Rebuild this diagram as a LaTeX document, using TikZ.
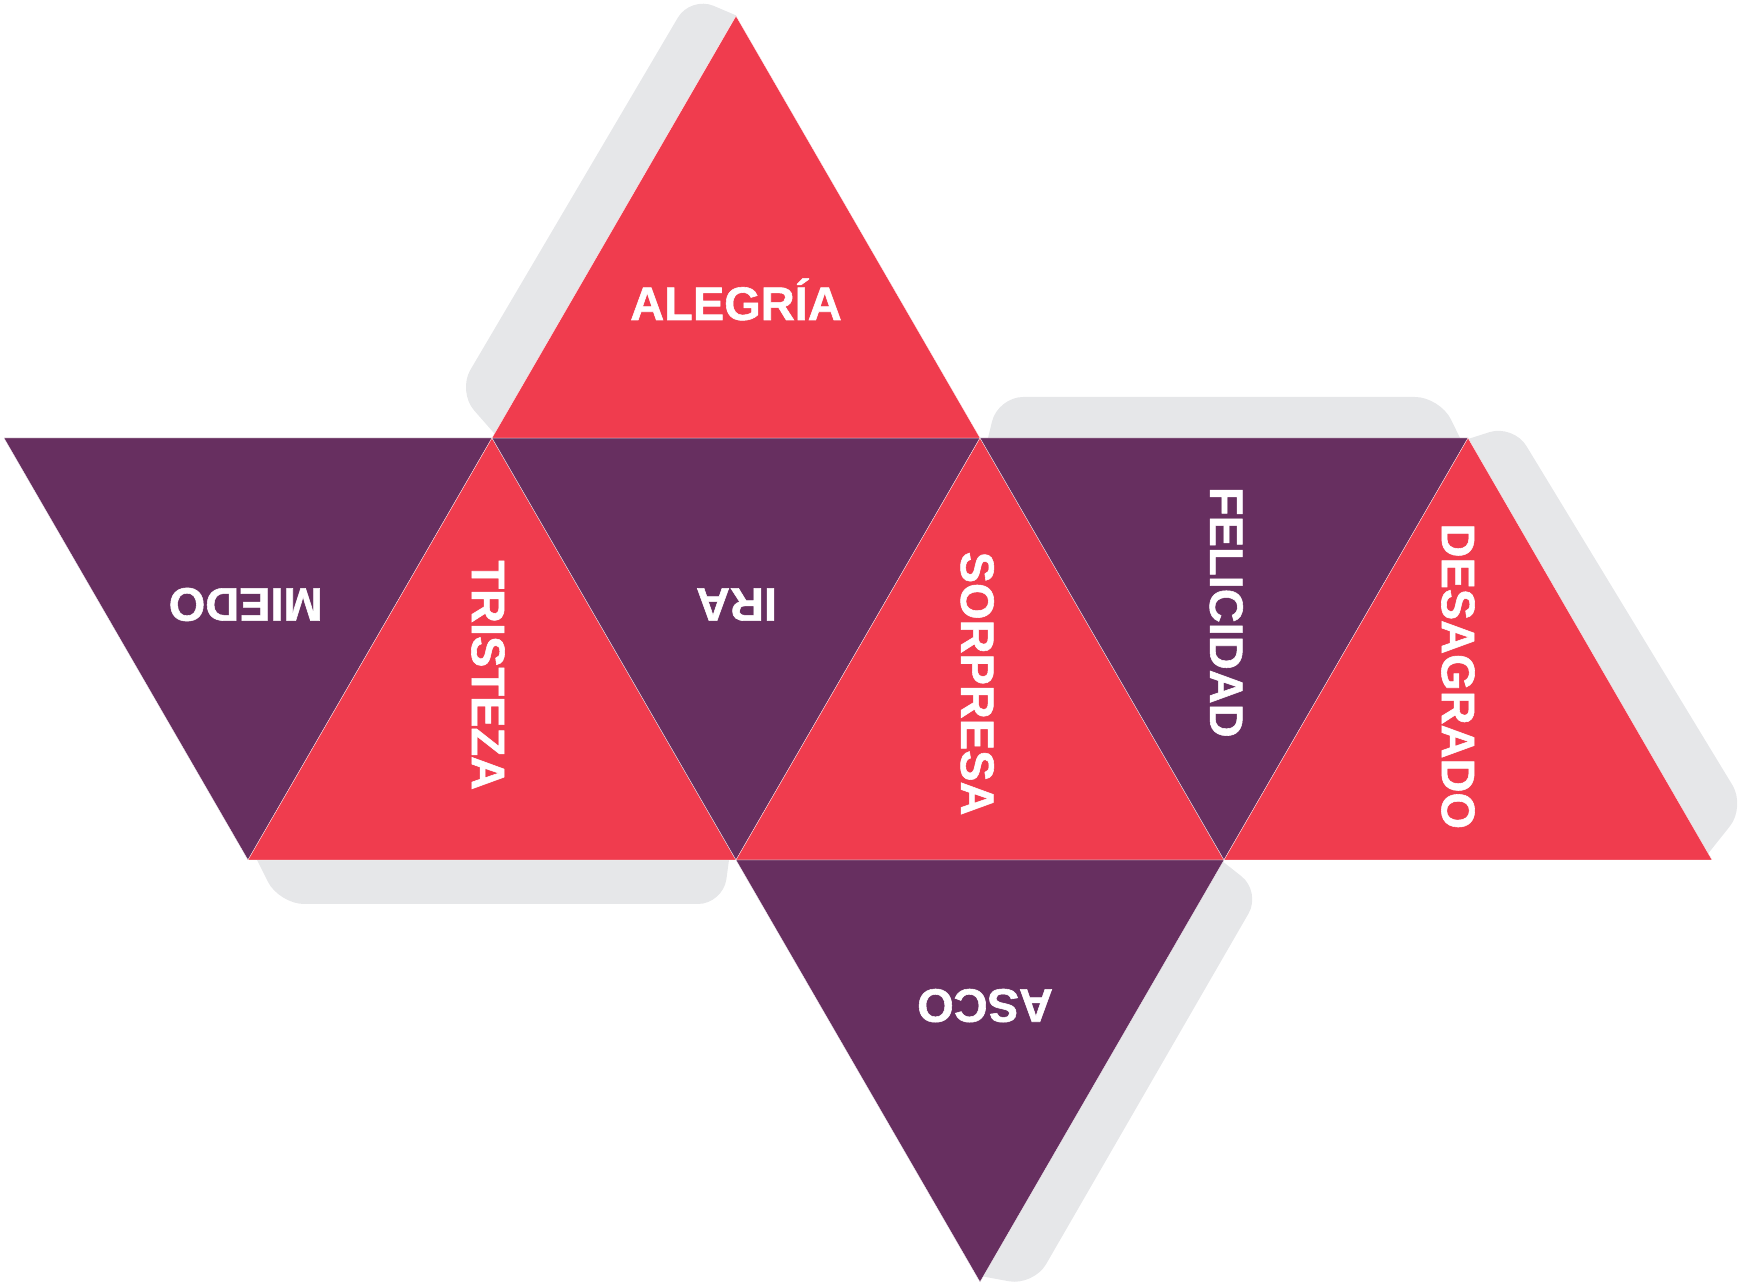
\documentclass[tikz,border=0pt]{standalone}
\usepackage{fontspec}
\setmainfont{Liberation Sans}
\newfontfamily\labelfont{Liberation Sans}[BoldFeatures={FakeBold=1.2}]
\definecolor{cred}{RGB}{240,60,78}
\definecolor{cpur}{RGB}{103,47,96}
\definecolor{cgray}{RGB}{230,231,233}
\tikzset{
  redface/.style={fill=cred, draw=white, line width=0.25pt, line join=round},
  purface/.style={fill=cpur, draw=white, line width=0.25pt, line join=round},
  facelabel/.style={text=white, font=\labelfont\fontsize{47}{50}\selectfont\bfseries, inner sep=0pt},
}
% #1 origin, #2 angle, #3 base start t, #4 #5 first outer corner (t,s), #6 #7 second outer corner, #8 base end t
\newcommand{\gluetab}[8]{%
  \begin{scope}[shift={(#1)}, rotate=#2]
    \clip (-100,0) rectangle (600,200);
    \fill[cgray, rounded corners=25pt] ({#3-(#4-#3)*1.2},{-#5*1.2}) -- (#4,#5) -- (#6,#7) -- ({#8-(#6-#8)*1.2},{-#7*1.2}) -- cycle;
  \end{scope}}
\begin{document}
\begin{tikzpicture}[x=1pt, y=1pt]
  \useasboundingbox (0,0) rectangle (1747,1287);
  % vertices
  \coordinate (T0) at (4,849);
  \coordinate (T1) at (492,849);
  \coordinate (T2) at (980,849);
  \coordinate (T3) at (1468,849);
  \coordinate (B0) at (248,427);
  \coordinate (B1) at (736,427);
  \coordinate (B2) at (1224,427);
  \coordinate (B3) at (1712,427);
  \coordinate (AT) at (736,1271);
  \coordinate (AB) at (980,5);
  % glue tabs
  \gluetab{T1}{60}{5}{23}{53}{482}{49}{488}
  \gluetab{T2}{0}{8}{18}{41}{460}{41}{480}
  \gluetab{T3}{-60}{1}{11}{46}{458}{56}{480}
  \gluetab{B1}{180}{7}{13}{44}{457}{44}{479}
  \gluetab{B2}{240}{2}{9}{48}{464}{48}{481}
  % faces
  \path[purface] (T0) -- (T1) -- (B0) -- cycle;
  \path[redface] (B0) -- (B1) -- (T1) -- cycle;
  \path[purface] (T1) -- (T2) -- (B1) -- cycle;
  \path[redface] (B1) -- (B2) -- (T2) -- cycle;
  \path[purface] (T2) -- (T3) -- (B2) -- cycle;
  \path[redface] (B2) -- (B3) -- (T3) -- cycle;
  \path[redface] (T1) -- (T2) -- (AT) -- cycle;
  \path[purface] (B1) -- (B2) -- (AB) -- cycle;
  % labels
  \node[facelabel, anchor=base] (alegria) at (736,967) {ALEGRÍA};
  \node[facelabel, rotate=180] (miedo) at (245.7,682.5) {MIEDO};
  \node[facelabel, rotate=180] (ira) at (736.5,682.5) {IRA};
  \node[facelabel, rotate=180] (asco) at (985,281.4) {ASCO};
  \node[facelabel, rotate=-90] (tristeza) at (488,611.8) {TRISTEZA};
  \node[facelabel, rotate=-90] (sorpresa) at (977.2,603.4) {SORPRESA};
  \node[facelabel, rotate=-90] (felicidad) at (1226.2,674.7) {FELICIDAD};
  \node[facelabel, rotate=-90] (desagrado) at (1458,610.7) {DESAGRADO};
\end{tikzpicture}
\end{document}
